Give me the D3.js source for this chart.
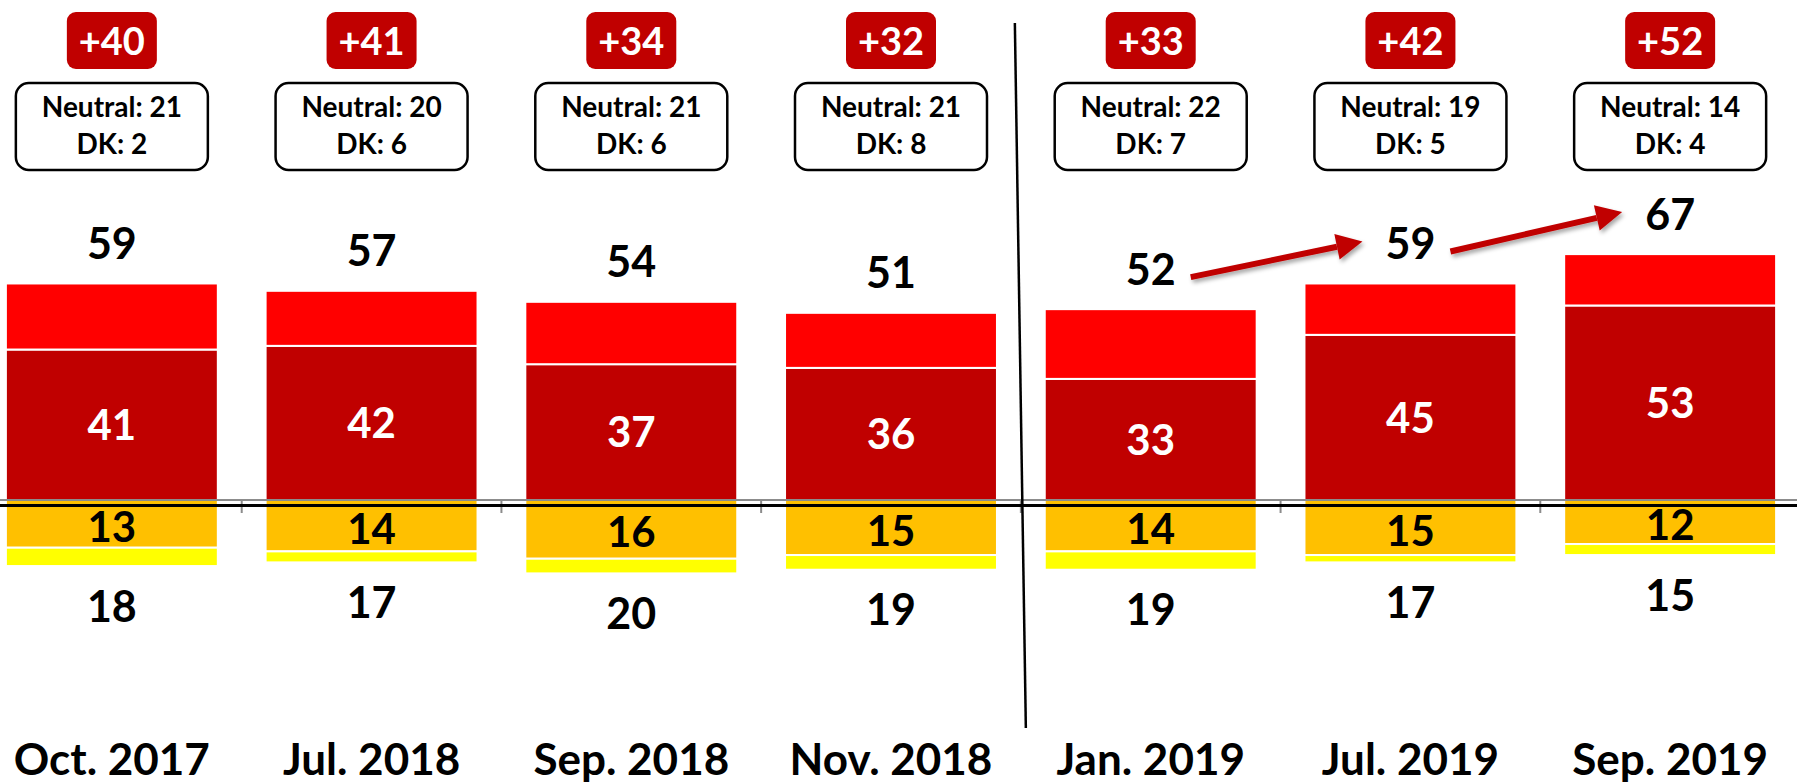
<!DOCTYPE html>
<html>
<head>
<meta charset="utf-8">
<script src="https://cdn.jsdelivr.net/npm/d3@7"></script>
<style>
  body { margin: 0; background: #fff; }
  text { font-family: Lato, "Open Sans", sans-serif; font-weight: bold; }
</style>
</head>
<body>
<div id="chart"></div>
<script>
// survey waves
const categories = ["Oct. 2017", "Jul. 2018", "Sep. 2018", "Nov. 2018", "Jan. 2019", "Jul. 2019", "Sep. 2019"];
const totalPos = [59, 57, 54, 51, 52, 59, 67];
const strongPos = [41, 42, 37, 36, 33, 45, 53];
const somewhatNeg = [13, 14, 16, 15, 14, 15, 12];
const totalNeg = [18, 17, 20, 19, 19, 17, 15];
const netScore = [40, 41, 34, 32, 33, 42, 52];
const neutral = [21, 20, 21, 21, 22, 19, 14];
const dontKnow = [2, 6, 6, 8, 7, 5, 4];
const arrowPairs = [[4, 5], [5, 6]];
const dividerAfter = 3;

const width = 1797;
const height = 783;
const colors = { strongPos: "#C00000", pos: "#FF0000", neg: "#FFC000", strongNeg: "#FFFF00" };

const svg = d3.select("#chart").append("svg")
  .attr("width", width)
  .attr("height", height);

const defs = svg.append("defs");
defs.append("filter").attr("id", "shadow")
  .attr("x", "-20%").attr("y", "-50%").attr("width", "140%").attr("height", "200%")
  .append("feDropShadow")
  .attr("dx", 2).attr("dy", 3).attr("stdDeviation", 2)
  .attr("flood-color", "#000").attr("flood-opacity", 0.35);

const x = d3.scaleBand()
  .domain(categories)
  .range([-18, 1800])
  .paddingInner(0.184)
  .paddingOuter(0.092);

const y = d3.scaleLinear()
  .domain([-20, 70])
  .range([573.4, 243.1]);

const cx = (i) => x(categories[i]) + x.bandwidth() / 2;

// stacked segments
const segments = [];
categories.forEach((c, i) => {
  segments.push({ c, lo: 0, hi: strongPos[i], color: colors.strongPos });
  segments.push({ c, lo: strongPos[i], hi: totalPos[i], color: colors.pos });
  segments.push({ c, lo: -somewhatNeg[i], hi: 0, color: colors.neg });
  segments.push({ c, lo: -totalNeg[i], hi: -somewhatNeg[i], color: colors.strongNeg });
});

svg.append("g").selectAll("rect")
  .data(segments)
  .join("rect")
  .attr("x", d => x(d.c))
  .attr("y", d => y(d.hi))
  .attr("width", x.bandwidth())
  .attr("height", d => y(d.lo) - y(d.hi))
  .attr("fill", d => d.color)
  .attr("stroke", "#fff")
  .attr("stroke-width", 2);

// axis lines
const y0 = y(0);
svg.append("line")
  .attr("x1", 0).attr("x2", width)
  .attr("y1", y0).attr("y2", y0)
  .attr("stroke", "#8c8c8c").attr("stroke-width", 2);
svg.append("g").selectAll("line")
  .data(categories.slice(1))
  .join("line")
  .attr("x1", d => x(d) - x.step() * x.paddingInner() / 2)
  .attr("x2", d => x(d) - x.step() * x.paddingInner() / 2)
  .attr("y1", y0).attr("y2", y0 + 13)
  .attr("stroke", "#8c8c8c").attr("stroke-width", 2);
svg.append("line")
  .attr("x1", 0).attr("x2", width)
  .attr("y1", y0 + 5.5).attr("y2", y0 + 5.5)
  .attr("stroke", "#000").attr("stroke-width", 3);

// divider between 2018 and 2019
const divX = x(categories[dividerAfter + 1]) - x.step() * x.paddingInner() / 2;
svg.append("line")
  .attr("x1", divX - 6).attr("y1", 23)
  .attr("x2", divX + 5).attr("y2", 728)
  .attr("stroke", "#000").attr("stroke-width", 2.5);

// value labels
const labels = svg.append("g").attr("text-anchor", "middle");
categories.forEach((c, i) => {
  labels.append("text")
    .attr("x", cx(i)).attr("y", y(totalPos[i]) - 40).attr("dy", "0.36em")
    .attr("font-size", 43).attr("fill", "#000")
    .text(totalPos[i]);
  labels.append("text")
    .attr("x", cx(i)).attr("y", (y(strongPos[i]) + y0) / 2).attr("dy", "0.36em")
    .attr("font-size", 42).attr("fill", "#fff")
    .text(strongPos[i]);
  labels.append("text")
    .attr("x", cx(i)).attr("y", (y(-somewhatNeg[i]) + y0) / 2 + 3).attr("dy", "0.36em")
    .attr("font-size", 42).attr("fill", "#000")
    .text(somewhatNeg[i]);
  labels.append("text")
    .attr("x", cx(i)).attr("y", y(-totalNeg[i]) + 40).attr("dy", "0.36em")
    .attr("font-size", 43).attr("fill", "#000")
    .text(totalNeg[i]);
  labels.append("text")
    .attr("x", cx(i)).attr("y", 775)
    .attr("font-size", 44).attr("fill", "#000")
    .text(c);
});

// net score boxes
const netG = svg.append("g").selectAll("g")
  .data(categories)
  .join("g")
  .attr("transform", (d, i) => `translate(${cx(i)}, 12)`);
netG.append("rect")
  .attr("x", -45).attr("y", 0)
  .attr("width", 90).attr("height", 57)
  .attr("rx", 9)
  .attr("fill", colors.strongPos);
netG.append("text")
  .attr("text-anchor", "middle")
  .attr("y", 29).attr("dy", "0.36em")
  .attr("font-size", 38).attr("fill", "#fff")
  .text((d, i) => "+" + netScore[i]);

// neutral / DK boxes
const infoG = svg.append("g").selectAll("g")
  .data(categories)
  .join("g")
  .attr("transform", (d, i) => `translate(${cx(i)}, 83)`);
infoG.append("rect")
  .attr("x", -96).attr("y", 0)
  .attr("width", 192).attr("height", 87)
  .attr("rx", 13)
  .attr("fill", "#fff").attr("stroke", "#000").attr("stroke-width", 2.5);
infoG.append("text")
  .attr("text-anchor", "middle")
  .attr("y", 24).attr("dy", "0.36em")
  .attr("font-size", 28).attr("fill", "#000")
  .text((d, i) => "Neutral: " + neutral[i]);
infoG.append("text")
  .attr("text-anchor", "middle")
  .attr("y", 61).attr("dy", "0.36em")
  .attr("font-size", 28).attr("fill", "#000")
  .text((d, i) => "DK: " + dontKnow[i]);

// trend arrows
const arrowG = svg.append("g").attr("filter", "url(#shadow)");
arrowPairs.forEach(([a, b]) => {
  const sx = cx(a) + 40, sy = y(totalPos[a]) - 40 + 8;
  const ex = cx(b) - 48, ey = y(totalPos[b]) - 40 - 2;
  const ang = Math.atan2(ey - sy, ex - sx);
  const headLen = 26, headW = 13;
  const bx = ex - headLen * Math.cos(ang), by = ey - headLen * Math.sin(ang);
  arrowG.append("line")
    .attr("x1", sx).attr("y1", sy).attr("x2", bx).attr("y2", by)
    .attr("stroke", colors.strongPos).attr("stroke-width", 6);
  const px = -Math.sin(ang) * headW, py = Math.cos(ang) * headW;
  arrowG.append("polygon")
    .attr("points", [[ex, ey], [bx + px, by + py], [bx - px, by - py]].map(p => p.join(",")).join(" "))
    .attr("fill", colors.strongPos);
});
</script>
</body>
</html>
